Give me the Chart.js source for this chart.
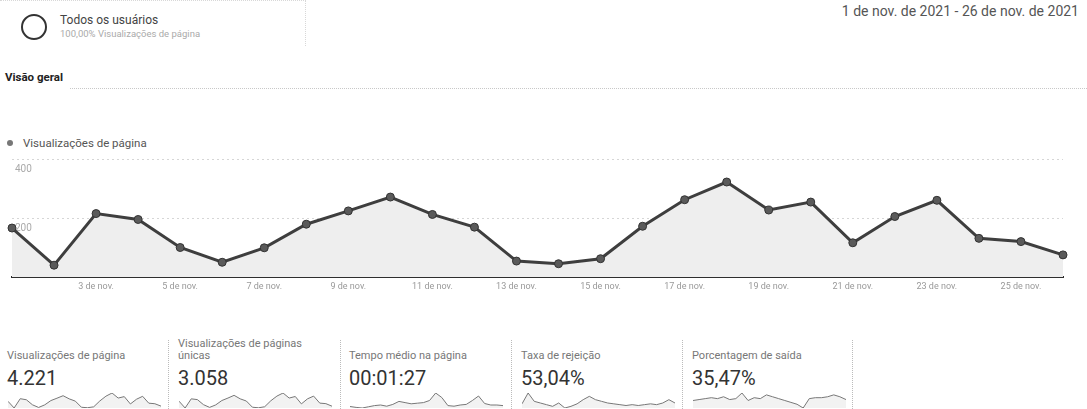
<!DOCTYPE html>
<html lang="pt-BR">
<head>
<meta charset="utf-8">
<script src="https://cdn.jsdelivr.net/npm/chart.js@4.4.0/dist/chart.umd.min.js"></script>
<style>
    body { margin: 0; width: 1087px; height: 409px; overflow: hidden; background: #fff; font-family: Roboto, Arial, sans-serif; position: relative; }
    .abs { position: absolute; white-space: nowrap; }
    canvas { display: block; }
    .segCircle { left: 21px; top: 14px; width: 22px; height: 22px; border: 2px solid #333; border-radius: 50%; }
    .segName { left: 60px; top: 13px; font-size: 12px; color: #444; }
    .segSub { left: 60px; top: 28px; font-size: 9.5px; color: #aaa; }
    .segBox { left: 0; top: 0; width: 305px; height: 45px; border-top: 1px dotted #d8d8d8; border-right: 1px dotted #d8d8d8; }
    .dateRange { right: 8px; top: 3px; font-size: 14px; color: #555; }
    .tab { left: 5px; top: 70px; font-size: 11.5px; font-weight: bold; color: #222; }
    .tabLine { left: 70px; top: 88px; width: 1017px; border-top: 1px dotted #c8c8c8; }
    .legend { left: 23px; top: 136px; font-size: 11.5px; color: #555; }
    .legendDot { left: 7px; top: 140px; width: 6px; height: 6px; border-radius: 50%; background: #777; }
    .mTitle { font-size: 11px; color: #777; line-height: 12px; }
    .mValue { font-size: 20px; color: #333; }
    .sep { top: 340px; height: 69px; border-left: 1px dotted #bbb; }
</style>
</head>
<body>
<div class="abs segBox"></div>
<div class="abs segCircle"></div>
<div class="abs segName">Todos os usuários</div>
<div class="abs segSub">100,00% Visualizações de página</div>
<div class="abs dateRange">1 de nov. de 2021 - 26 de nov. de 2021</div>
<div class="abs tab">Visão geral</div>
<div class="abs tabLine"></div>
<div class="abs legendDot"></div>
<div class="abs legend">Visualizações de página</div>

<div class="abs" style="left:0;top:150px;width:1087px;height:150px;">
    <canvas id="graficoPrincipal" width="1087" height="150"></canvas>
</div>

<div id="metricas"></div>

<script>
const dias = ['1 de nov.', '2 de nov.', '3 de nov.', '4 de nov.', '5 de nov.', '6 de nov.', '7 de nov.',
    '8 de nov.', '9 de nov.', '10 de nov.', '11 de nov.', '12 de nov.', '13 de nov.', '14 de nov.',
    '15 de nov.', '16 de nov.', '17 de nov.', '18 de nov.', '19 de nov.', '20 de nov.', '21 de nov.',
    '22 de nov.', '23 de nov.', '24 de nov.', '25 de nov.', '26 de nov.'];

const visualizacoes = [166, 40, 215, 195, 100, 50, 99, 179, 224, 271, 212, 169, 54, 45, 62, 172,
    262, 322, 227, 254, 116, 205, 260, 131, 120, 75];

const visualizacoesUnicas = [120, 32, 150, 140, 75, 40, 72, 128, 160, 195, 150, 122, 42, 35, 48, 125,
    185, 225, 160, 180, 85, 150, 185, 95, 88, 55];

const tempoMedio = [75, 72, 70, 74, 78, 80, 76, 82, 92, 88, 84, 86, 88, 95, 120, 105, 78, 76, 80, 82,
    95, 110, 85, 80, 80, 78];

const taxaRejeicao = [55, 68, 58, 56, 54, 52, 56, 50, 52, 55, 60, 64, 60, 58, 56, 55, 54, 53, 54, 53,
    54, 55, 54, 56, 60, 56];

const porcentagemSaida = [34, 35, 36, 37, 36, 38, 35, 36, 42, 34, 37, 36, 40, 38, 36, 34, 32, 30, 26,
    36, 37, 37, 38, 40, 38, 35];

const ticksY = [0, 200, 400];

const metricas = [
    { titulo: 'Visualizações de página', valor: '4.221', serie: visualizacoes, x: 7 },
    { titulo: 'Visualizações de páginas<br>únicas', valor: '3.058', serie: visualizacoesUnicas, x: 178 },
    { titulo: 'Tempo médio na página', valor: '00:01:27', serie: tempoMedio, x: 349 },
    { titulo: 'Taxa de rejeição', valor: '53,04%', serie: taxaRejeicao, x: 521 },
    { titulo: 'Porcentagem de saída', valor: '35,47%', serie: porcentagemSaida, x: 692 }
];
const separadores = [168, 340, 511, 682, 852];

new Chart(document.getElementById('graficoPrincipal').getContext('2d'), {
    type: 'line',
    data: {
        labels: dias,
        datasets: [{
            data: visualizacoes,
            borderColor: '#3e3e3e',
            borderWidth: 3,
            backgroundColor: '#eeeeee',
            fill: 'origin',
            tension: 0,
            pointRadius: 4,
            pointBackgroundColor: '#5a5a5a',
            pointBorderColor: '#333',
            pointBorderWidth: 1,
            clip: false
        }]
    },
    options: {
        responsive: false,
        animation: false,
        layout: { padding: { left: 12, right: 24, top: 6, bottom: 0 } },
        plugins: { legend: { display: false }, tooltip: { enabled: false } },
        scales: {
            x: {
                offset: false,
                grid: { display: false, drawTicks: false },
                border: { display: true, color: '#2e2e2e', width: 2 },
                afterFit: (scale) => { scale.height = 23; },
                ticks: {
                    autoSkip: false,
                    maxRotation: 0,
                    padding: 4,
                    color: '#999',
                    font: { family: 'Roboto, Arial, sans-serif', size: 9 },
                    callback: (value, index) => (index % 2 === 0 && index > 0 && index < 25) ? dias[index] : ''
                }
            },
            y: {
                min: ticksY[0],
                max: ticksY[ticksY.length - 1],
                afterFit: (scale) => { scale.width = 0; },
                afterBuildTicks: (scale) => { scale.ticks = ticksY.map(v => ({ value: v })); },
                border: { display: false, dash: [2, 3] },
                grid: {
                    drawTicks: false,
                    color: (ctx) => ctx.tick && ctx.tick.value === 0 ? 'rgba(0,0,0,0)' : '#d6d6d6',
                    lineWidth: 1
                },
                ticks: {
                    mirror: true,
                    padding: 3,
                    labelOffset: 10,
                    color: '#aaa',
                    font: { family: 'Roboto, Arial, sans-serif', size: 10 },
                    callback: (value) => value === 0 ? '' : value
                }
            }
        }
    }
});

const container = document.getElementById('metricas');

separadores.forEach(function (x) {
    const sep = document.createElement('div');
    sep.className = 'abs sep';
    sep.style.left = x + 'px';
    container.appendChild(sep);
});

metricas.forEach(function (m) {
    const titulo = document.createElement('div');
    titulo.className = 'abs mTitle';
    titulo.style.left = m.x + 'px';
    titulo.style.top = (m.titulo.indexOf('<br>') > -1 ? 338 : 350) + 'px';
    titulo.innerHTML = m.titulo;
    container.appendChild(titulo);

    const valor = document.createElement('div');
    valor.className = 'abs mValue';
    valor.style.left = m.x + 'px';
    valor.style.top = '366px';
    valor.textContent = m.valor;
    container.appendChild(valor);

    const box = document.createElement('div');
    box.className = 'abs';
    box.style.left = (m.x + 1) + 'px';
    box.style.top = '391px';
    const canvas = document.createElement('canvas');
    canvas.width = 153;
    canvas.height = 18;
    box.appendChild(canvas);
    container.appendChild(box);

    // escala justa nos dados, senão o Chart.js arredonda e a linha fica achatada
    const minimo = Math.min(...m.serie);
    const maximo = Math.max(...m.serie);

    new Chart(canvas.getContext('2d'), {
        type: 'line',
        data: {
            labels: dias,
            datasets: [{
                data: m.serie,
                borderColor: '#777',
                borderWidth: 1,
                backgroundColor: 'rgba(0,0,0,0.05)',
                fill: 'start',
                pointRadius: 0,
                tension: 0
            }]
        },
        options: {
            responsive: false,
            maintainAspectRatio: false,
            animation: false,
            layout: { padding: { top: 2, bottom: 1, left: 0, right: 0 } },
            plugins: { legend: { display: false }, tooltip: { enabled: false } },
            scales: {
                x: { display: false, offset: false },
                y: { display: false, min: minimo, max: maximo }
            }
        }
    });
});
</script>
</body>
</html>
